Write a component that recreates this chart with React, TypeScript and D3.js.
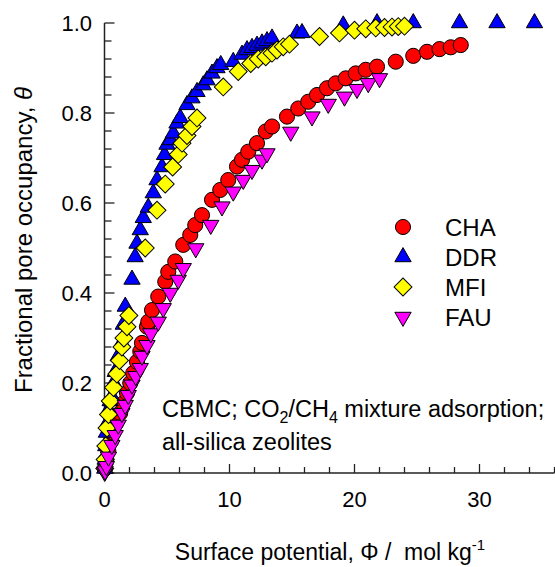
import * as d3 from 'd3'

// CBMC pore occupancy vs surface potential
const chaData: [number, number][] = [
  [0.05, 0.01], [0.15, 0.03], [0.3, 0.05], [0.5, 0.07], [0.7, 0.09], [0.9, 0.11],
  [1.25, 0.133], [1.5, 0.155], [1.8, 0.178], [2.06, 0.2], [2.3, 0.222], [2.6, 0.247],
  [2.86, 0.27], [3.0, 0.289], [3.4, 0.325], [3.5, 0.336], [3.8, 0.362], [4.3, 0.392],
  [4.86, 0.425], [5.1, 0.447], [5.66, 0.47], [6.3, 0.507], [6.86, 0.529], [7.26, 0.551],
  [7.8, 0.573], [8.6, 0.607], [9.26, 0.629], [9.9, 0.651], [10.6, 0.681], [11.0, 0.696],
  [11.5, 0.714], [12.2, 0.733], [12.9, 0.759], [13.4, 0.77], [14.6, 0.792], [15.5, 0.81],
  [16.3, 0.825], [17.0, 0.84], [17.8, 0.855], [18.5, 0.866], [19.3, 0.877], [20.1, 0.888],
  [20.9, 0.896], [21.8, 0.903], [23.3, 0.914], [24.7, 0.927], [25.8, 0.936], [26.8, 0.942],
  [27.7, 0.946], [28.5, 0.951],
]

const ddrData: [number, number][] = [
  [0.02, 0.01], [0.05, 0.03], [0.1, 0.06], [0.15, 0.09], [0.2, 0.11], [0.32, 0.14],
  [0.45, 0.16], [0.59, 0.17], [0.75, 0.2], [0.86, 0.225], [1.1, 0.26], [1.39, 0.29],
  [1.5, 0.33], [1.66, 0.37], [2.2, 0.43], [2.45, 0.48], [2.6, 0.51], [2.86, 0.54],
  [3.1, 0.567], [3.5, 0.59], [3.9, 0.622], [4.2, 0.651], [4.6, 0.68], [4.8, 0.707],
  [5.0, 0.73], [5.27, 0.74], [5.5, 0.755], [5.8, 0.777], [6.06, 0.789], [6.6, 0.818],
  [7.0, 0.833], [7.4, 0.847], [7.9, 0.862], [8.2, 0.873], [8.6, 0.888], [9.0, 0.9],
  [9.3, 0.907], [10.3, 0.914], [11.0, 0.93], [11.4, 0.94], [11.8, 0.945], [12.2, 0.95],
  [12.6, 0.955], [13.0, 0.96], [13.4, 0.966], [15.4, 0.977], [15.8, 0.978], [19.1, 0.995],
  [21.8, 1.0], [24.7, 1.0], [28.4, 1.0], [31.4, 1.0], [34.4, 1.0],
]

const mfiData: [number, number][] = [
  [0.02, 0.01], [0.05, 0.03], [0.1, 0.06], [0.2, 0.1], [0.32, 0.13], [0.46, 0.16],
  [0.72, 0.19], [0.99, 0.22], [1.2, 0.25], [1.39, 0.28], [1.55, 0.3], [1.8, 0.325],
  [1.95, 0.35], [3.26, 0.5], [4.2, 0.584], [4.86, 0.642], [5.45, 0.68], [5.9, 0.708],
  [6.2, 0.733], [6.6, 0.75], [7.0, 0.77], [7.4, 0.789], [9.5, 0.858], [10.7, 0.892],
  [11.7, 0.91], [12.3, 0.92], [12.9, 0.925], [13.4, 0.933], [13.8, 0.94], [14.3, 0.947],
  [14.8, 0.953], [17.2, 0.97], [18.8, 0.978], [20.0, 0.984], [20.9, 0.987], [21.7, 0.989],
  [22.4, 0.99], [23.0, 0.991], [23.5, 0.992], [24.0, 0.993],
]

const fauData: [number, number][] = [
  [0.02, 0.002], [0.05, 0.005], [0.15, 0.015], [0.32, 0.036], [0.59, 0.062], [0.86, 0.084],
  [1.1, 0.107], [1.39, 0.133], [1.66, 0.151], [1.9, 0.173], [2.2, 0.196], [2.5, 0.215],
  [2.86, 0.233], [3.0, 0.26], [3.4, 0.284], [3.7, 0.31], [4.3, 0.336], [4.7, 0.366],
  [5.26, 0.4], [5.9, 0.429], [6.3, 0.455], [7.3, 0.499], [8.5, 0.551], [9.4, 0.592],
  [10.3, 0.625], [11.1, 0.651], [11.8, 0.673], [12.6, 0.696], [13.0, 0.71], [14.9, 0.758],
  [16.6, 0.792], [17.9, 0.82], [19.2, 0.836], [20.2, 0.853], [21.1, 0.866], [22.0, 0.877],
]

const seriesNames = ['CHA', 'DDR', 'MFI', 'FAU']
const xTicks = [0, 10, 20, 30]
const yTicks = [0, 0.2, 0.4, 0.6, 0.8, 1.0]

const W = 555
const H = 567
const font = 'Liberation Sans, Arial, Helvetica, sans-serif'

const x = d3.scaleLinear().domain([0, 36]).range([104.5, 554.5])
const y = d3.scaleLinear().domain([0, 1]).range([473, 23])

const circle = d3.symbol().type(d3.symbolCircle).size(180)()!
const tri = d3.symbol().type(d3.symbolTriangle).size(115)()!
const square = d3.symbol().type(d3.symbolSquare).size(160)()!

const styles = [
  { data: chaData, fill: '#ff0000', path: circle, rot: 0 },
  { data: ddrData, fill: '#0000ff', path: tri, rot: 0 },
  { data: mfiData, fill: '#ffff00', path: square, rot: 45 },
  { data: fauData, fill: '#ff00ff', path: tri, rot: 180 },
]

export default function App() {
  const xMinor = d3.range(0, 36.01, 2)
  const yMinor = d3.range(0, 1.001, 0.04)
  const legendY = [227, 257, 287, 317]

  return (
    <svg width={W} height={H} style={{ position: 'absolute', left: 0, top: 0, background: '#fff' }} fontFamily={font}>
      {/* axes */}
      <line x1={x(0)} x2={x(36)} y1={y(0)} y2={y(0)} stroke="#222" strokeWidth={1.5} />
      <line x1={x(0)} x2={x(0)} y1={y(0)} y2={y(1)} stroke="#222" strokeWidth={1.5} />
      {xMinor.map((t) => (
        <line key={'xm' + t} x1={x(t)} x2={x(t)} y1={y(0)} y2={y(0) - (t % 10 === 0 ? 9 : 6)} stroke="#222" strokeWidth={1.3} />
      ))}
      {yMinor.map((t) => (
        <line key={'ym' + t} x1={x(0)} x2={x(0) + (Math.abs(Math.round(t * 5) - t * 5) < 1e-6 ? 10 : 7)} y1={y(t)} y2={y(t)} stroke="#222" strokeWidth={1.3} />
      ))}
      {xTicks.map((t) => (
        <text key={'xt' + t} x={x(t)} y={507} textAnchor="middle" fontSize={22}>{t}</text>
      ))}
      {yTicks.map((t) => (
        <text key={'yt' + t} x={92} y={y(t)} dy="0.36em" textAnchor="end" fontSize={22}>{t.toFixed(1)}</text>
      ))}

      {/* points */}
      {styles.map((s, i) => (
        <g key={'s' + i}>
          {s.data.map((d, j) => (
            <path key={j} d={s.path} transform={`translate(${x(d[0])},${y(d[1])}) rotate(${s.rot})`}
              fill={s.fill} stroke="#000" strokeWidth={1} />
          ))}
        </g>
      ))}

      {/* legend */}
      {styles.map((s, i) => (
        <g key={'l' + i}>
          <path d={s.path} transform={`translate(403,${legendY[i]}) rotate(${s.rot})`} fill={s.fill} stroke="#000" strokeWidth={1} />
          <text x={445} y={legendY[i]} dy="0.36em" fontSize={24}>{seriesNames[i]}</text>
        </g>
      ))}

      {/* annotation */}
      <text x={162} y={417} fontSize={23.5}>
        CBMC; CO<tspan fontSize={16} dy={6}>2</tspan><tspan dy={-6}>/CH</tspan><tspan fontSize={16} dy={6}>4</tspan><tspan dy={-6}> mixture adsorption;</tspan>
      </text>
      <text x={162} y={450} fontSize={23.5}>all-silica zeolites</text>

      {/* axis titles */}
      <text x={330} y={560} textAnchor="middle" fontSize={23} style={{ whiteSpace: 'pre' }}>
        {'Surface potential, Φ /  mol kg'}<tspan fontSize={15} dy={-10}>-1</tspan>
      </text>
      <text transform="translate(32,240) rotate(-90)" textAnchor="middle" fontSize={24}>
        Fractional pore occupancy, <tspan fontStyle="italic">θ</tspan>
      </text>
    </svg>
  )
}
